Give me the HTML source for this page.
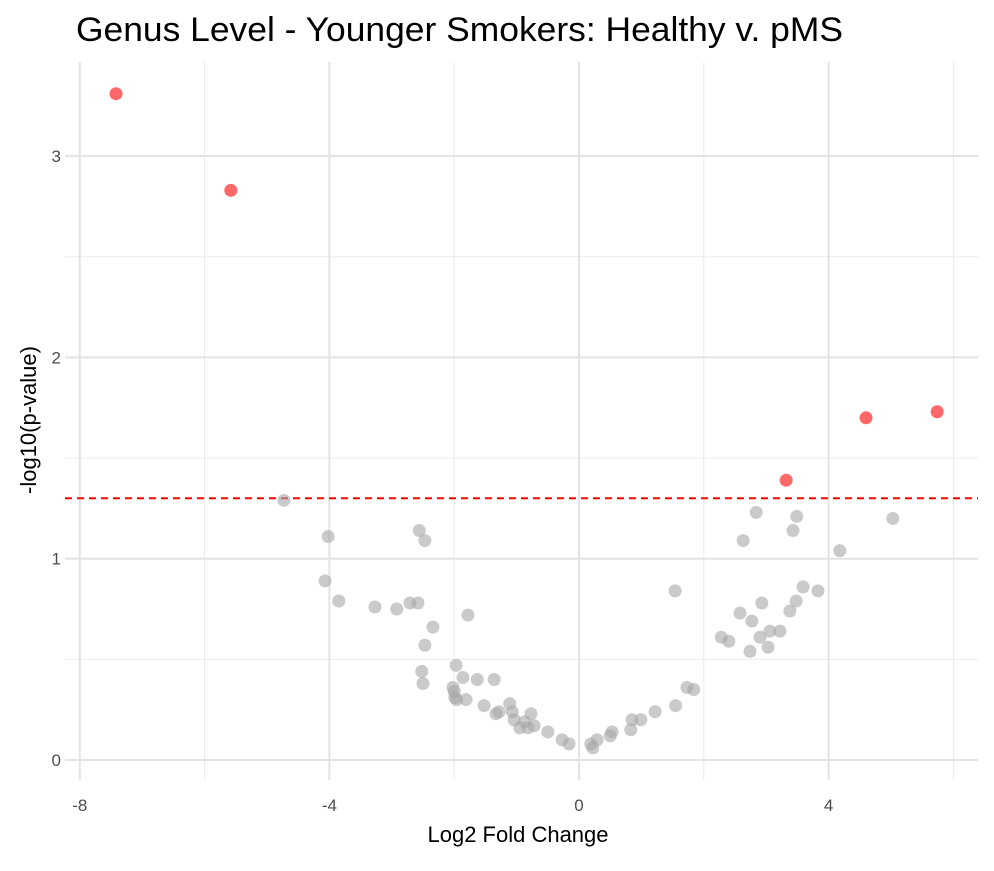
<!DOCTYPE html>
<html><head><meta charset="utf-8"><style>
body{margin:0;background:#fff;}
svg text{font-family:"Liberation Sans",sans-serif;}
</style></head><body>
<svg id="chart" width="994" height="866">
<text x="76" y="41" font-size="34" textLength="767" lengthAdjust="spacingAndGlyphs" fill="#000">Genus Level - Younger Smokers: Healthy v. pMS</text>
<g id="grid"></g><g id="pts"></g><g id="axes"></g>
<text x="518" y="842" font-size="22" text-anchor="middle" fill="#000">Log2 Fold Change</text>
<text transform="translate(36,420) rotate(-90)" font-size="22" text-anchor="middle" fill="#000">-log10(p-value)</text>
</svg>
<script>
const sigX=[-7.42,-5.58,3.32,4.60,5.74];
const sigY=[3.31,2.83,1.39,1.70,1.73];
const nsX=[-4.73,-4.02,-4.07,-3.85,-3.27,-2.92,-2.71,-2.58,-2.56,-2.47,-2.34,-2.47,-2.52,-2.50,-1.97,-2.02,-2.00,-1.99,-1.96,-1.86,-1.81,-1.78,-1.63,-1.52,-1.36,-1.33,-1.28,-1.11,-1.07,-1.04,-0.95,-0.87,-0.82,-0.77,-0.72,-0.50,-0.27,-0.16,0.19,0.22,0.29,0.50,0.53,0.83,0.85,0.99,1.22,1.55,1.54,1.73,1.84,2.28,2.40,2.58,2.63,2.74,2.77,2.84,2.90,2.93,3.03,3.06,3.22,3.38,3.43,3.48,3.49,3.59,3.83,4.18,5.03];
const nsY=[1.29,1.11,0.89,0.79,0.76,0.75,0.78,0.78,1.14,1.09,0.66,0.57,0.44,0.38,0.47,0.36,0.34,0.31,0.30,0.41,0.30,0.72,0.40,0.27,0.40,0.23,0.24,0.28,0.24,0.20,0.16,0.19,0.16,0.23,0.17,0.14,0.10,0.08,0.08,0.06,0.10,0.12,0.14,0.15,0.20,0.20,0.24,0.27,0.84,0.36,0.35,0.61,0.59,0.73,1.09,0.54,0.69,1.23,0.61,0.78,0.56,0.64,0.64,0.74,1.14,0.79,1.21,0.86,0.84,1.04,1.20];
const xTicks=[-8,-4,0,4];
const xMinor=[-6,-2,2,6];
const yTicks=[0,1,2,3];
const yMinor=[0.5,1.5,2.5];
const threshold=1.30;
const X=v=>579+v*62.4, Y=v=>760-v*201.3;
const L=65,R=978,T=62,B=780;
const NS="http://www.w3.org/2000/svg";
function mk(p,t,a){const e=document.createElementNS(NS,t);for(const k in a)e.setAttribute(k,a[k]);p.appendChild(e);return e;}
const g=document.getElementById('grid'),pts=document.getElementById('pts'),ax=document.getElementById('axes');
xMinor.forEach(v=>{const e=mk(g,'line',{x1:X(v),x2:X(v),y1:T,y2:B,stroke:'#ebebeb','stroke-width':1});

});
yMinor.forEach(v=>{const e=mk(g,'line',{x1:L,x2:R,y1:Y(v),y2:Y(v),stroke:'#ebebeb','stroke-width':1});

});
xTicks.forEach(v=>{const e=mk(g,'line',{x1:X(v),x2:X(v),y1:T,y2:B,stroke:'#e3e3e3','stroke-width':2});


const t=mk(ax,'text',{x:X(v),y:811,'font-size':17,'text-anchor':'middle',fill:'#4d4d4d'});t.textContent=v;

});
yTicks.forEach(v=>{const e=mk(g,'line',{x1:L,x2:R,y1:Y(v),y2:Y(v),stroke:'#e3e3e3','stroke-width':2});


const t=mk(ax,'text',{x:61,y:Y(v)+6,'font-size':17,'text-anchor':'end',fill:'#4d4d4d'});t.textContent=v;

});
const th=mk(pts,'line',{x1:L,x2:R,y1:Y(threshold),y2:Y(threshold),stroke:'#ff0000','stroke-width':2,'stroke-dasharray':'7,5'});


nsX.forEach((v,i)=>{const c=mk(pts,'circle',{cx:X(v),cy:Y(nsY[i]),r:6.5,fill:'#a6a6a6','fill-opacity':0.6});

});
sigX.forEach((v,i)=>{const c=mk(pts,'circle',{cx:X(v),cy:Y(sigY[i]),r:6.5,fill:'#ff2020','fill-opacity':0.68});

});
</script>
</body></html>
